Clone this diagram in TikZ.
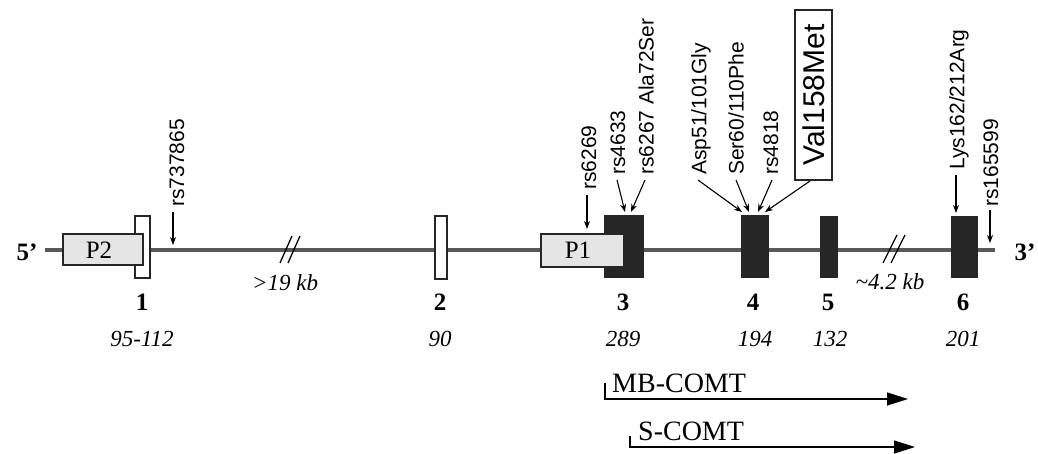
\documentclass[tikz,border=0pt]{standalone}
\usepackage{fontspec}
\setmainfont{Liberation Serif}
\newfontfamily\arialf{Liberation Sans}
\usetikzlibrary{arrows.meta}
\begin{document}
\begin{tikzpicture}[x=1pt,y=-1pt,
  gene/.style={line width=4.5pt,draw=black!65},
  whiteexon/.style={draw=black!85,line width=1.3pt,fill=white},
  blackexon/.style={draw=black!85,line width=1.3pt,fill=black!85},
  promoter/.style={draw=black!85,line width=1.3pt,fill=black!10},
  snp/.style={rotate=90,anchor=west,inner sep=0pt,font=\arialf\fontsize{21}{21}\selectfont},
  snparrow/.style={draw=black,line width=1.1pt,-{Stealth[length=8pt,width=6pt]}},
  exnum/.style={font=\bfseries\fontsize{25}{25}\selectfont,inner sep=0pt},
  exlen/.style={font=\itshape\fontsize{23}{23}\selectfont,inner sep=0pt},
  endlab/.style={font=\bfseries\fontsize{25}{25}\selectfont,inner sep=0pt},
  brk/.style={draw=black,line width=1.3pt},
  transcript/.style={draw=black,line width=1.3pt,-{Triangle[length=21pt,width=13pt]}},
  tlab/.style={font=\fontsize{28}{28}\selectfont,inner sep=0pt,anchor=base west}]
\useasboundingbox (0,0) rectangle (1038,454);
% gene line
\coordinate (gs) at (45,250);
\coordinate (ge) at (995,250);
\draw[gene] (gs) -- (ge);
\node[endlab] (five) at (27,252) {5’};
\node[endlab] (three) at (1025,252) {3’};
% exons
\draw[whiteexon] (135,216) rectangle (150,278) node[midway] (e1) {};
\draw[promoter] (63,234) rectangle (143,265);
\node[font=\fontsize{25}{25}\selectfont,inner sep=0pt] (p2) at (99,250) {P2};
\draw[whiteexon] (435,216) rectangle (447,279) node[midway] (e2) {};
\draw[blackexon] (605,216) rectangle (643,277) node[midway] (e3) {};
\draw[promoter] (541,234) rectangle (624,267);
\node[font=\fontsize{25}{25}\selectfont,inner sep=0pt] (p1) at (578,250) {P1};
\draw[blackexon] (742,216) rectangle (768,277) node[midway] (e4) {};
\draw[blackexon] (821,217) rectangle (837,277) node[midway] (e5) {};
\draw[blackexon] (952,217) rectangle (977,277) node[midway] (e6) {};
% breaks
\draw[brk] (280,263) -- (292,236);
\draw[brk] (288,263) -- (300,236);
\draw[brk] (883,263) -- (897,235);
\draw[brk] (891,263) -- (905,235);
\node[exlen] (kb1) at (285,283) {>19 kb};
\node[exlen] (kb2) at (890,282) {\char`\~4.2 kb};
% exon numbers and lengths
\node[exnum] (n1) at (142,302) {1};
\node[exnum] (n2) at (440,302) {2};
\node[exnum] (n3) at (623,302) {3};
\node[exnum] (n4) at (753,302) {4};
\node[exnum] (n5) at (828,302) {5};
\node[exnum] (n6) at (963,302) {6};
\node[exlen] (l1) at (142,339) {95-112};
\node[exlen] (l2) at (440,339) {90};
\node[exlen] (l3) at (623,339) {289};
\node[exlen] (l4) at (755,339) {194};
\node[exlen] (l5) at (830,339) {132};
\node[exlen] (l6) at (963,339) {201};
% SNP labels
\node[snp] (s1) at (177,207) {rs737865};
\node[snp] (s2) at (589,190) {rs6269};
\node[snp] (s3) at (618,175) {rs4633};
\node[snp] (s4) at (646,175) {rs6267 Ala72Ser};
\node[snp] (s5) at (701,175) {Asp51/101Gly};
\node[snp] (s6) at (736,175) {Ser60/110Phe};
\node[snp] (s7) at (771,175) {rs4818};
\node[draw=black!85,line width=1.2pt,rotate=90,minimum height=37pt,minimum width=170pt,inner sep=0pt,font=\arialf\fontsize{30}{30}\selectfont] (val) at (813.5,95) {Val158Met};
\node[snp] (s9) at (959,170) {Lys162/212Arg};
\node[snp] (s10) at (991,207) {rs165599};
% SNP targets
\coordinate (t1) at (173,245);
\coordinate (t2) at (587,229);
\coordinate (t3) at (625,212);
\coordinate (t4) at (631,212);
\coordinate (t5) at (742,212);
\coordinate (t6) at (749,212);
\coordinate (t7) at (758,212);
\coordinate (t8) at (765,212);
\coordinate (t9) at (956,213);
\coordinate (t10) at (990,243);
\draw[snparrow] (173,212) -- (t1);
\draw[snparrow] (587,195) -- (t2);
\draw[snparrow] (617,180) -- (t3);
\draw[snparrow] (645,180) -- (t4);
\draw[snparrow] (698,180) -- (t5);
\draw[snparrow] (736,180) -- (t6);
\draw[snparrow] (772,180) -- (t7);
\draw[snparrow] (810,181) -- (t8);
\draw[snparrow] (956,175) -- (t9);
\draw[snparrow] (990,210) -- (t10);
% transcripts
\coordinate (mbs) at (605,383);
\coordinate (mbe) at (908,399);
\draw[transcript] (mbs) |- (mbe);
\node[tlab] (mb) at (612,392) {MB-COMT};
\coordinate (ss) at (630,436);
\coordinate (se) at (915,447);
\draw[transcript] (ss) |- (se);
\node[tlab] (sc) at (638,440) {S-COMT};
\end{tikzpicture}
\end{document}
